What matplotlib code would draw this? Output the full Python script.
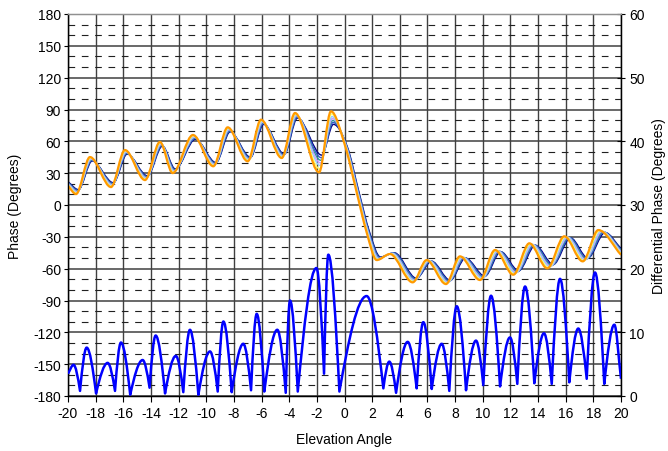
import numpy as np
import matplotlib
matplotlib.use('Agg')
import matplotlib.pyplot as plt
from matplotlib.path import Path
from matplotlib.patches import PathPatch

plt.rcParams['font.family'] = ['Liberation Sans', 'DejaVu Sans']

# ---------------- data ----------------
x_ticks = list(range(-20, 21, 2))
phase_ticks = list(range(-180, 181, 30))
diff_ticks = list(range(0, 61, 10))

# leading (outer, orange) phase curve: peaks / troughs / turning points
lead_x = [-20.0, -19.42, -18.41, -16.89, -15.88, -14.43, -13.35, -12.43, -10.96, -9.49,
          -8.45, -7.0, -6.04, -4.54, -3.58, -1.84, -0.98, 0.04, 0.88, 1.6,
          2.33, 3.29, 4.93, 5.94, 7.34, 8.35, 9.8, 10.89, 12.21, 13.37,
          14.67, 15.9, 17.23, 18.36, 20.0]
lead_y = [18.0, 10.3, 45.2, 16.9, 51.8, 23.5, 59.4, 30.1, 66.0, 36.5,
          73.2, 41.2, 80.4, 44.3, 86.7, 30.8, 88.3, 55.9, 12.0, -25.7,
          -51.9, -46.2, -72.9, -51.9, -74.5, -48.4, -70.7, -42.4, -65.7, -36.1,
          -59.7, -29.5, -53.1, -23.6, -47.0]

# lagging (inner, navy) phase curve
lag_x = [-20.0, -19.25, -18.25, -16.72, -15.72, -14.25, -13.17, -12.24, -10.78, -9.3,
         -8.27, -6.8, -5.85, -4.35, -3.4, -1.65, -0.8, 0.2, 1.05, 1.8,
         2.6, 3.6, 5.2, 6.3, 7.65, 8.75, 10.15, 11.3, 12.6, 13.8,
         15.1, 16.35, 17.6, 18.85, 20.0]
lag_y = [22.0, 14.5, 41.5, 21.0, 48.0, 27.5, 55.5, 34.0, 62.0, 40.0,
         69.0, 45.0, 76.0, 48.0, 82.0, 47.0, 76.0, 55.0, 12.0, -25.0,
         -49.0, -45.0, -69.0, -53.0, -71.0, -50.0, -67.0, -44.0, -62.0, -38.0,
         -56.0, -31.0, -50.0, -26.0, -41.0]

# band of phase traces: colour, position inside the band (0 = leading, 1 = lagging)
band_colors = ['#000080', '#3355CC', '#2E9A9A', '#CC99FF', '#99CCFF', '#FFFF66', '#FF9900']
band_pos = [1.0, 0.85, 0.7, 0.55, 0.4, 0.2, 0.0]
band_widths = [1.0, 1.0, 1.0, 1.0, 1.0, 1.0, 1.6]

# differential phase (secondary axis)
diff_x = [-20.0, -19.6, -19.13, -18.65, -17.97, -17.13, -16.6, -16.17, -15.5, -14.6,
          -14.1, -13.66, -12.98, -12.2, -11.66, -11.18, -10.57, -9.73, -9.17, -8.76,
          -8.16, -7.32, -6.76, -6.35, -5.8, -4.86, -4.25, -3.94, -3.38, -2.03,
          -1.48, -1.17, -0.37, 1.6, 2.81, 3.24, 3.73, 4.57, 5.22, 5.7,
          6.31, 7.03, 7.58, 8.12, 8.79, 9.51, 10.04, 10.6, 11.25, 11.97,
          12.5, 13.06, 13.73, 14.43, 14.99, 15.59, 16.26, 16.91, 17.52, 18.12,
          18.79, 19.52, 20.0]
diff_y = [3.5, 4.9, 0.8, 7.6, 0.4, 5.2, 0.8, 8.4, 0.2, 5.65,
          1.3, 9.5, 0.4, 6.3, 0.6, 10.4, 0.2, 7.0, 0.7, 11.7,
          0.6, 8.2, 0.9, 12.9, 0.7, 10.4, 0.5, 15.0, 0.7, 20.1,
          3.5, 22.2, 0.7, 15.7, 1.2, 5.4, 0.5, 8.5, 1.2, 11.6,
          1.1, 8.2, 0.8, 14.1, 0.9, 8.7, 1.7, 15.75, 1.5, 9.2,
          1.9, 17.2, 2.0, 9.85, 1.9, 18.4, 2.15, 10.6, 2.7, 19.4,
          1.9, 11.2, 2.7]


# ---------------- smooth line rendering (Bezier through the data points) -------------
def smooth_path(xs, ys, v_troughs=False):
    xs = np.asarray(xs, float)
    ys = np.asarray(ys, float)
    n = len(xs)
    m_in = np.zeros(n)
    m_out = np.zeros(n)
    for i in range(n):
        if i == 0:
            m = (ys[1] - ys[0]) / (xs[1] - xs[0])
            m_in[i] = m_out[i] = m
        elif i == n - 1:
            m = (ys[-1] - ys[-2]) / (xs[-1] - xs[-2])
            m_in[i] = m_out[i] = m
        else:
            d_prev = (ys[i] - ys[i - 1]) / (xs[i] - xs[i - 1])
            d_next = (ys[i + 1] - ys[i]) / (xs[i + 1] - xs[i])
            if d_prev * d_next <= 0:
                if v_troughs and d_prev < 0 < d_next:
                    m_in[i] = 1.6 * d_prev
                    m_out[i] = 1.6 * d_next
                else:
                    m_in[i] = m_out[i] = 0.0
            else:
                m = (ys[i + 1] - ys[i - 1]) / (xs[i + 1] - xs[i - 1])
                m_in[i] = m_out[i] = m
    verts = [(xs[0], ys[0])]
    codes = [Path.MOVETO]
    for i in range(n - 1):
        dx = xs[i + 1] - xs[i]
        verts += [(xs[i] + dx / 3, ys[i] + m_out[i] * dx / 3),
                  (xs[i + 1] - dx / 3, ys[i + 1] - m_in[i + 1] * dx / 3),
                  (xs[i + 1], ys[i + 1])]
        codes += [Path.CURVE4] * 3
    return Path(verts, codes)


fig = plt.figure(figsize=(6.68, 4.52), dpi=100)
ax = fig.add_axes([68 / 668, 1 - 397 / 452, (621 - 68) / 668, (397 - 15) / 452])
ax2 = ax.twinx()

ax.set_xlim(-20, 20)
ax.set_ylim(-180, 180)
ax2.set_ylim(0, 60)

ax.set_xticks(x_ticks)
ax.set_xticklabels([str(v) for v in x_ticks])
ax.set_yticks(phase_ticks)
ax.set_yticklabels([str(v) for v in phase_ticks])
ax.set_yticks(list(range(-170, 180, 10)), minor=True)
ax2.set_yticks(diff_ticks)
ax2.set_yticklabels([str(v) for v in diff_ticks])

ax.set_axisbelow(True)
ax.xaxis.grid(True, color='#404040', lw=1.0)
ax.yaxis.grid(True, which='major', color='#404040', lw=1.1)
ax.yaxis.grid(True, which='minor', color='#202020', lw=0.8, linestyle=(0, (6, 6)))

ax.tick_params(axis='x', direction='out', length=4, width=0.8, labelsize=10, pad=3)
ax.tick_params(axis='y', direction='out', length=3, width=0.8, labelsize=10, pad=2)
ax.tick_params(axis='y', which='minor', length=0)
ax2.tick_params(axis='y', direction='inout', length=6, width=0.8, labelsize=10, pad=3)

for a in (ax, ax2):
    a.spines['top'].set_color('#909090')
    a.spines['left'].set_color('black')
    a.spines['right'].set_color('black')
    a.spines['bottom'].set_color('black')
    for s in a.spines.values():
        s.set_linewidth(0.9)

# phase traces band
lead_x_a = np.asarray(lead_x)
lead_y_a = np.asarray(lead_y)
lag_x_a = np.asarray(lag_x)
lag_y_a = np.asarray(lag_y)
for col, p, w in zip(band_colors, band_pos, band_widths):
    sx = lead_x_a + p * (lag_x_a - lead_x_a)
    sy = lead_y_a + p * (lag_y_a - lead_y_a)
    ax.add_patch(PathPatch(smooth_path(sx, sy), fill=False, edgecolor=col, lw=w,
                           transform=ax.transData, zorder=3))

# differential phase
ax2.add_patch(PathPatch(smooth_path(diff_x, diff_y, v_troughs=True), fill=False,
                        edgecolor='#0000FF', lw=1.8, joinstyle='round',
                        transform=ax2.transData, zorder=3))

ax.set_xlabel('Elevation Angle', fontsize=10, labelpad=9)
ax.set_ylabel('Phase (Degrees)', fontsize=10, labelpad=8)
ax2.set_ylabel('Differential Phase (Degrees)', fontsize=10, labelpad=5)

fig.savefig('out.png', dpi=100)
